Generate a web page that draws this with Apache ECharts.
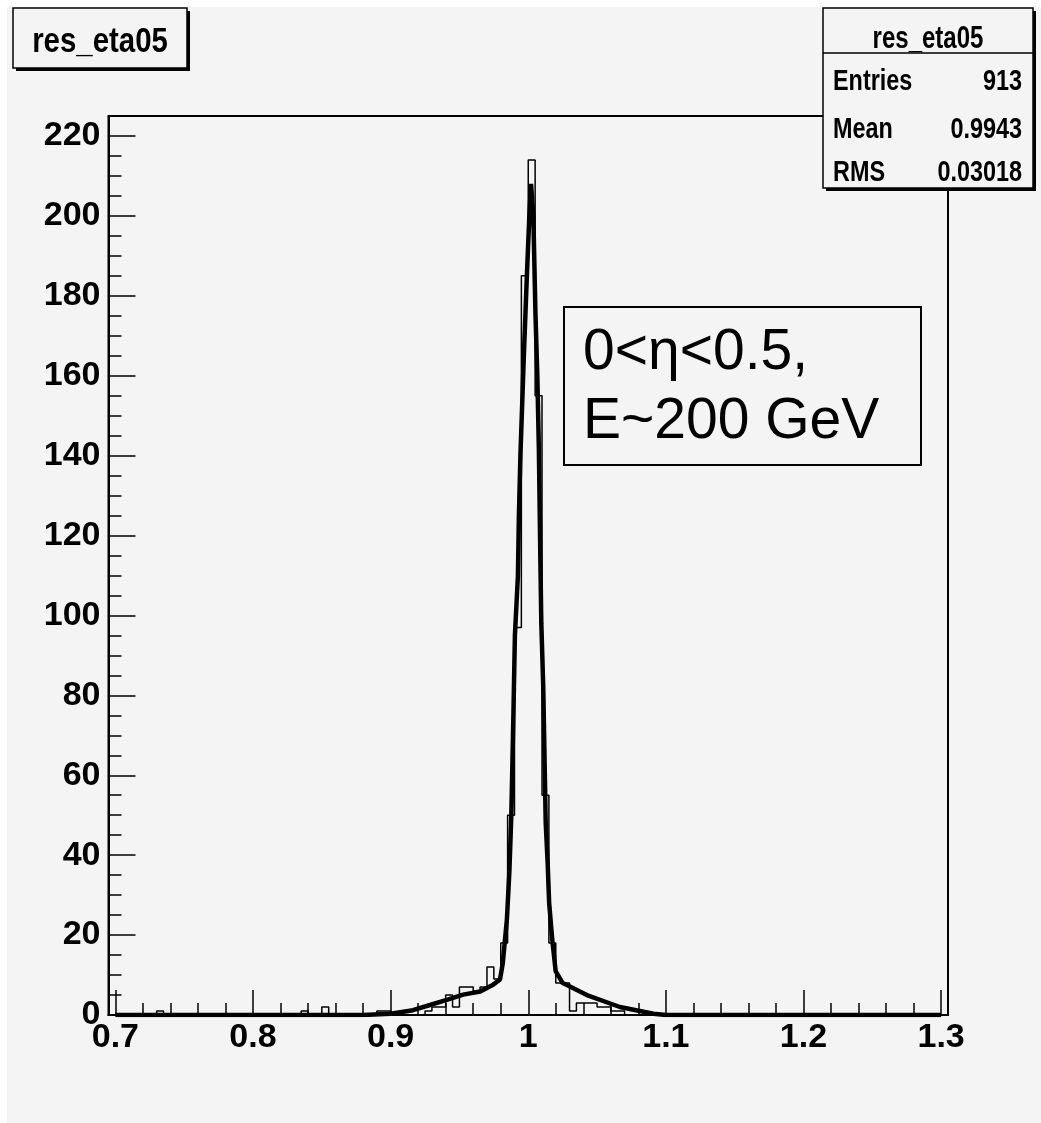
<!DOCTYPE html>
<html>
<head>
<meta charset="utf-8">
<script src="https://cdn.jsdelivr.net/npm/echarts@6/dist/echarts.min.js"></script>
<style>html,body{margin:0;padding:0;background:#fff}#c{width:1041px;height:1123px}</style>
</head>
<body>
<div id="c"></div>
<script>
// ---- data ----
const histTitle = "res_eta05";
const binStart = 0.695;
const binWidth = 0.005;
// 122 bins of width 0.005 from 0.695 to 1.305
const counts = [
  0,0,0,0,0,0,0,1,0,0,   // 0.695 - 0.745
  0,0,0,0,0,0,0,0,0,0,   // 0.745 - 0.795
  0,0,0,0,0,0,0,0,1,0,   // 0.795 - 0.845
  0,2,0,0,0,0,0,0,0,1,   // 0.845 - 0.895
  1,0,0,0,0,0,1,2,2,5,   // 0.895 - 0.945
  2,7,7,6,7,12,9,18,50,97, // 0.945 - 0.995
  185,214,155,55,18,8,8,1,3,3, // 0.995 - 1.045
  3,2,2,1,1,0,0,0,0,0,   // 1.045 - 1.095
  0,0,0,0,0,0,0,0,0,0,
  0,0,0,0,0,0,0,0,0,0,
  0,0,0,0,0,0,0,0,0,0,
  0,0,0,0,0,0,0,0,0,0,
  0,0
];
// fitted curve
const fitX = [0.700,0.880,0.900,0.9162,0.9286,0.9408,0.9527,0.9651,0.9745,0.9795,0.9815,0.9845,0.9863,0.9877,0.9892,0.9903,0.9925,0.9932,0.9943,0.9968,0.9990,1.0008,1.0020,1.0037,1.0052,1.0066,1.0077,1.0088,1.0095,1.0109,1.0127,1.0141,1.0152,1.0174,1.0199,1.0250,1.0281,1.0426,1.0666,1.0910,1.1000,1.3000];
const fitY = [0,0,0.3,1.2,2.5,3.8,5.1,5.9,7.6,8.9,13,24,36,50,75,95,110,125,140,165,185,200,208,200,176,160,142,114,98,82,48,38,28,19,11,8,7.5,5,2,0.3,0,0];
const xMajorTicks = [0.7,0.8,0.9,1.0,1.1,1.2,1.3];
const xMajorLabels = ["0.7","0.8","0.9","1","1.1","1.2","1.3"];
const xMinorTicks = [0.72,0.74,0.76,0.78,0.82,0.84,0.86,0.88,0.92,0.94,0.96,0.98,1.02,1.04,1.06,1.08,1.12,1.14,1.16,1.18,1.22,1.24,1.26,1.28];
const statNames = ["Entries","Mean","RMS"];
const statValues = ["913","0.9943","0.03018"];
const noteLines = ["0<\u03b7<0.5,","E~200 GeV"];

// ---- build ----
const nb = counts.length;
const histPts = counts.map((v,k)=>[+(binStart+k*binWidth).toFixed(4), v]);
histPts.push([+(binStart+nb*binWidth).toFixed(4), counts[nb-1]]);
const fitPts = fitX.map((x,i)=>[x, fitY[i]]);

const BG = '#f4f4f4';
const helv = "'Liberation Sans',Arial,Helvetica,sans-serif";

const chart = echarts.init(document.getElementById('c'), null, {renderer:'canvas'});
const rowY = [82,130,173];
chart.setOption({
  backgroundColor: BG,
  animation: false,
  grid: {left: 108.5, right: 93, top: 116, bottom: 108, show: true, borderColor: '#000', borderWidth: 2, backgroundColor: 'transparent'},
  xAxis: [{
    type: 'value', min: binStart, max: +(binStart+nb*binWidth).toFixed(4), position: 'bottom',
    axisLine: {show: true, lineStyle: {color: '#000', width: 2}},
    axisTick: {show: true, inside: true, length: 25, customValues: xMajorTicks, lineStyle: {color: '#000', width: 1.5}},
    axisLabel: {show: true, customValues: xMajorTicks, margin: 6, color: '#000', fontFamily: helv, fontWeight: 'bold', fontSize: 34,
      formatter: v => { const i = xMajorTicks.findIndex(t => Math.abs(t - v) < 1e-6); return i >= 0 ? xMajorLabels[i] : ''; }},
    splitLine: {show: false}
  },{
    type: 'value', min: binStart, max: +(binStart+nb*binWidth).toFixed(4), position: 'bottom',
    axisLine: {show: false},
    axisTick: {show: true, inside: true, length: 12, customValues: xMinorTicks, lineStyle: {color: '#000', width: 1.5}},
    axisLabel: {show: false},
    splitLine: {show: false}
  }],
  yAxis: {
    type: 'value', min: 0, max: 225, interval: 20,
    axisLine: {show: true, lineStyle: {color: '#000', width: 2}},
    axisTick: {show: true, inside: true, length: 27, lineStyle: {color: '#000', width: 1.5}},
    minorTick: {show: true, splitNumber: 4, length: 13, lineStyle: {color: '#000', width: 1.5}},
    axisLabel: {show: true, margin: 8, color: '#000', fontFamily: helv, fontWeight: 'bold', fontSize: 34,
      showMaxLabel: false},
    splitLine: {show: false}
  },
  series: [{
    type: 'line', name: 'hist', data: histPts, step: 'end', symbol: 'none', xAxisIndex: 0,
    lineStyle: {color: '#000', width: 1.5}, z: 3
  },{
    type: 'line', name: 'fit', data: fitPts, symbol: 'none', xAxisIndex: 0, smooth: false,
    lineStyle: {color: '#000', width: 4.5}, z: 4
  }],
  graphic: [
    // white page margin
    {type: 'rect', shape: {x: 0, y: 0, width: 1041, height: 7}, style: {fill: '#fff'}, z: 200, silent: true},
    {type: 'rect', shape: {x: 0, y: 0, width: 7, height: 1123}, style: {fill: '#fff'}, z: 200, silent: true},
    // title box
    {type: 'rect', shape: {x: 16, y: 11, width: 174, height: 60}, style: {fill: '#000'}, z: 100},
    {type: 'rect', shape: {x: 13, y: 8, width: 174, height: 60}, style: {fill: BG, stroke: '#000', lineWidth: 1.5}, z: 101},
    {type: 'text', x: 100, y: 42, scaleX: 0.84, z: 102, style: {text: histTitle, font: "bold 35px " + helv, fill: '#000', align: 'center', verticalAlign: 'middle'}},
    // stats box
    {type: 'rect', shape: {x: 826, y: 11, width: 210, height: 180}, style: {fill: '#000'}, z: 100},
    {type: 'rect', shape: {x: 823, y: 8, width: 210, height: 180}, style: {fill: BG, stroke: '#000', lineWidth: 1.5}, z: 101},
    {type: 'line', shape: {x1: 823, y1: 53, x2: 1033, y2: 53}, style: {stroke: '#000', lineWidth: 1.5}, z: 102},
    {type: 'text', x: 928, y: 39, scaleX: 0.75, z: 102, style: {text: histTitle, font: "bold 32px " + helv, fill: '#000', align: 'center', verticalAlign: 'middle'}},
    ...statNames.map((n,i)=>({type: 'text', x: 833, y: rowY[i], scaleX: 0.78, z: 102, style: {text: n, font: "bold 30px " + helv, fill: '#000', align: 'left', verticalAlign: 'middle'}})),
    ...statValues.map((n,i)=>({type: 'text', x: 1022, y: rowY[i], scaleX: 0.78, z: 102, style: {text: n, font: "bold 30px " + helv, fill: '#000', align: 'right', verticalAlign: 'middle'}})),
    // annotation box
    {type: 'rect', shape: {x: 564, y: 307, width: 357, height: 158}, style: {fill: BG, stroke: '#000', lineWidth: 2}, z: 50},
    {type: 'text', x: 583, y: 353, z: 51, style: {text: noteLines[0], font: "57px " + helv, fill: '#000', align: 'left', verticalAlign: 'middle'}},
    {type: 'text', x: 583, y: 422, z: 51, style: {text: noteLines[1], font: "57px " + helv, fill: '#000', align: 'left', verticalAlign: 'middle'}}
  ]
});
</script>
</body>
</html>
